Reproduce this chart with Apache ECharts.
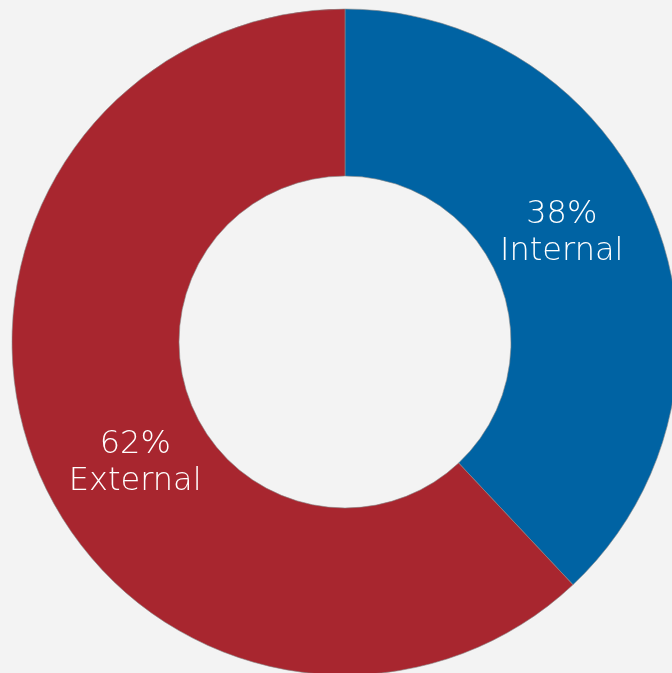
<!DOCTYPE html>
<html>
<head>
<meta charset="utf-8">
<script src="https://cdn.jsdelivr.net/npm/echarts@6/dist/echarts.min.js"></script>
<style>
  html, body { margin: 0; padding: 0; background: #f3f3f3; }
  #chart { width: 672px; height: 673px; }
</style>
</head>
<body>
<div id="chart"></div>
<script>
  // data
  var categories = ['Internal', 'External'];
  var shares = [38, 62];
  var colors = ['#0063a3', '#a8262f'];
  var labelOffsets = [[-18, -16], [25, 28]];

  var chart = echarts.init(document.getElementById('chart'));

  var pieData = categories.map(function (name, i) {
    return {
      name: name,
      value: shares[i],
      itemStyle: { color: colors[i] },
      label: { offset: labelOffsets[i] }
    };
  });

  chart.setOption({
    backgroundColor: '#f3f3f3',
    animation: false,
    series: [{
      type: 'pie',
      center: [345, 342],
      radius: [166, 333],
      startAngle: 90,
      clockwise: true,
      avoidLabelOverlap: false,
      itemStyle: {
        borderColor: '#8a8a8a',
        borderWidth: 0.6
      },
      label: {
        show: true,
        position: 'inside',
        color: '#ffffff',
        fontFamily: 'DejaVu Sans',
        fontWeight: 200,
        fontSize: 32,
        lineHeight: 37,
        formatter: function (p) {
          return p.value + '%\n' + p.name;
        }
      },
      labelLine: { show: false },
      data: pieData
    }]
  });
</script>
</body>
</html>
